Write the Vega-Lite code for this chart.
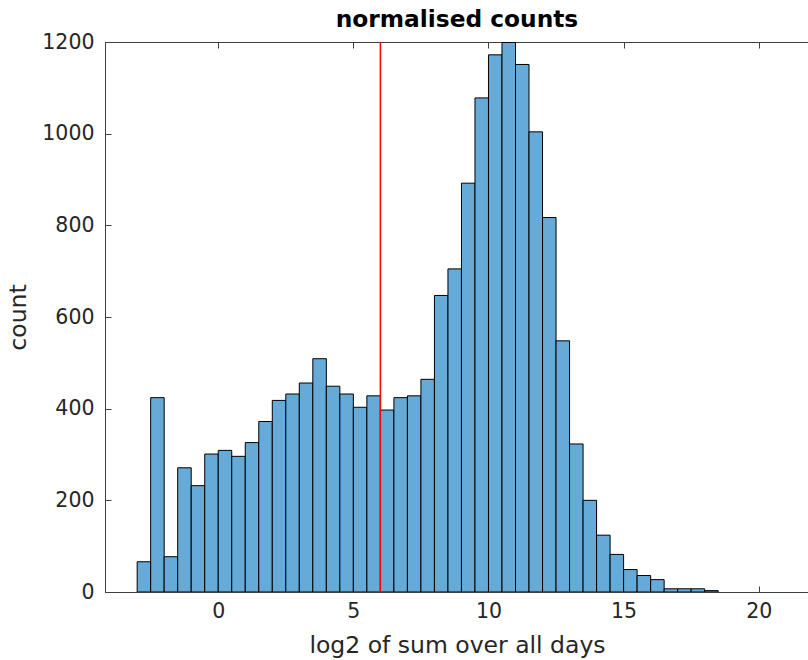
{
  "$schema": "https://vega.github.io/schema/vega-lite/v6.json",
  "autosize": "none",
  "width": 704,
  "height": 550,
  "padding": {"left": 105, "top": 42, "right": 0, "bottom": 68},
  "background": "white",
  "config": {
    "font": "DejaVu Sans",
    "view": {"stroke": "#404040", "strokeWidth": 1},
    "axis": {"grid": false, "labelFont": "DejaVu Sans", "titleFont": "DejaVu Sans", "labelColor": "#262626", "titleColor": "#262626", "domainColor": "#404040", "tickColor": "#404040", "labelFontSize": 20.5, "titleFontSize": 23.5, "titleFontWeight": "normal"}
  },
  "title": {"text": "normalised counts", "fontSize": 23.3, "fontWeight": "bold", "color": "#000000", "anchor": "middle", "frame": "group", "offset": 0},
  "data": {"values": [
    {"x0": -3.0, "x1": -2.5, "count": 66},
    {"x0": -2.5, "x1": -2.0, "count": 424},
    {"x0": -2.0, "x1": -1.5, "count": 77},
    {"x0": -1.5, "x1": -1.0, "count": 271},
    {"x0": -1.0, "x1": -0.5, "count": 232},
    {"x0": -0.5, "x1": 0.0, "count": 301},
    {"x0": 0.0, "x1": 0.5, "count": 309},
    {"x0": 0.5, "x1": 1.0, "count": 296},
    {"x0": 1.0, "x1": 1.5, "count": 326},
    {"x0": 1.5, "x1": 2.0, "count": 372},
    {"x0": 2.0, "x1": 2.5, "count": 418},
    {"x0": 2.5, "x1": 3.0, "count": 432},
    {"x0": 3.0, "x1": 3.5, "count": 456},
    {"x0": 3.5, "x1": 4.0, "count": 509},
    {"x0": 4.0, "x1": 4.5, "count": 449},
    {"x0": 4.5, "x1": 5.0, "count": 432},
    {"x0": 5.0, "x1": 5.5, "count": 403},
    {"x0": 5.5, "x1": 6.0, "count": 428},
    {"x0": 6.0, "x1": 6.5, "count": 397},
    {"x0": 6.5, "x1": 7.0, "count": 424},
    {"x0": 7.0, "x1": 7.5, "count": 428},
    {"x0": 7.5, "x1": 8.0, "count": 464},
    {"x0": 8.0, "x1": 8.5, "count": 647},
    {"x0": 8.5, "x1": 9.0, "count": 705},
    {"x0": 9.0, "x1": 9.5, "count": 892},
    {"x0": 9.5, "x1": 10.0, "count": 1078},
    {"x0": 10.0, "x1": 10.5, "count": 1172},
    {"x0": 10.5, "x1": 11.0, "count": 1199},
    {"x0": 11.0, "x1": 11.5, "count": 1151},
    {"x0": 11.5, "x1": 12.0, "count": 1004},
    {"x0": 12.0, "x1": 12.5, "count": 817},
    {"x0": 12.5, "x1": 13.0, "count": 548},
    {"x0": 13.0, "x1": 13.5, "count": 323},
    {"x0": 13.5, "x1": 14.0, "count": 200},
    {"x0": 14.0, "x1": 14.5, "count": 124},
    {"x0": 14.5, "x1": 15.0, "count": 82},
    {"x0": 15.0, "x1": 15.5, "count": 49},
    {"x0": 15.5, "x1": 16.0, "count": 36},
    {"x0": 16.0, "x1": 16.5, "count": 27},
    {"x0": 16.5, "x1": 17.0, "count": 7},
    {"x0": 17.0, "x1": 17.5, "count": 7},
    {"x0": 17.5, "x1": 18.0, "count": 7},
    {"x0": 18.0, "x1": 18.5, "count": 3}
  ]},
  "layer": [
    {
      "mark": {"type": "bar", "fill": "#66AAD7", "stroke": "#000000", "strokeWidth": 1, "clip": true},
      "encoding": {
        "x": {"field": "x0", "type": "quantitative", "scale": {"domain": [-4.19, 21.86], "nice": false, "zero": false},
              "axis": {"orient": "bottom", "title": "log2 of sum over all days", "values": [0, 5, 10, 15, 20], "tickSize": -6, "labelPadding": 15, "titleY": 41}},
        "x2": {"field": "x1"},
        "y": {"field": "count", "type": "quantitative", "scale": {"domain": [0, 1200], "nice": false},
              "axis": {"title": "count", "format": "d", "values": [0, 200, 400, 600, 800, 1000, 1200], "tickSize": -6, "labelPadding": 17, "titleX": -75}},
        "y2": {"datum": 0}
      }
    },
    {
      "data": {"values": [{"threshold": 6}]},
      "mark": {"type": "rule", "color": "#FF0000", "strokeWidth": 1.5},
      "encoding": {
        "x": {"field": "threshold", "type": "quantitative",
              "axis": {"orient": "top", "title": null, "labels": false, "values": [0, 5, 10, 15, 20], "tickSize": -6}}
      }
    }
  ],
  "resolve": {"axis": {"x": "independent"}}
}
